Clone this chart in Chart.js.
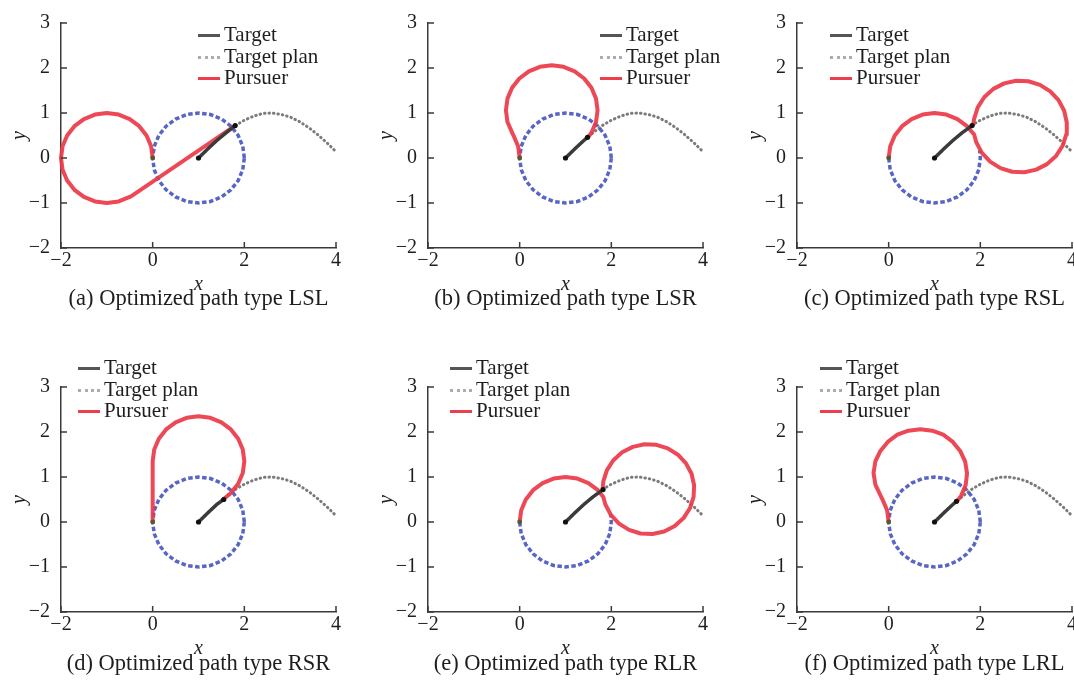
<!DOCTYPE html>
<html><head><meta charset="utf-8">
<script src="https://cdn.jsdelivr.net/npm/chart.js@4.4.0/dist/chart.umd.min.js"></script>
<style>
html,body{margin:0;padding:0;background:#fff;}
body{width:1074px;height:684px;overflow:hidden;position:relative;font-family:"Liberation Serif","Times New Roman",serif;color:#1e1e1e;}
canvas{position:absolute;}
.cap{position:absolute;font-size:22.5px;line-height:26px;white-space:nowrap;transform:translateX(-50%);}
.leg{position:absolute;font-size:21px;line-height:22px;white-space:nowrap;}
.sw{position:absolute;width:22px;}
</style>
</head><body>
<script>
// ---------- data ----------
const xTickValues = [-2, 0, 2, 4];
const yTickValues = [-2, -1, 0, 1, 2, 3];
const legendLabels = ['Target', 'Target plan', 'Pursuer'];
const captions = [
  '(a) Optimized path type LSL', '(b) Optimized path type LSR', '(c) Optimized path type RSL',
  '(d) Optimized path type RSR', '(e) Optimized path type RLR', '(f) Optimized path type LRL'
];

// planned target trajectory (grey dotted)
const targetPlan = [[1,0],[1.2,0.2],[1.4,0.39],[1.6,0.56],[1.8,0.72],[2.0,0.84],[2.2,0.93],[2.4,0.99],[2.6,1.0],[2.8,0.97],[3.0,0.91],[3.2,0.81],[3.4,0.68],[3.6,0.52],[3.8,0.34],[4.0,0.14],[4.1,0.04],[4.18,-0.04]];

// blue dashed circle (full and partial)
const blueFull = [[2,0],[1.966,0.259],[1.866,0.5],[1.707,0.707],[1.5,0.866],[1.259,0.966],[1,1],[0.741,0.966],[0.5,0.866],[0.293,0.707],[0.134,0.5],[0.034,0.259],[0,0],[0.034,-0.259],[0.134,-0.5],[0.293,-0.707],[0.5,-0.866],[0.741,-0.966],[1,-1],[1.259,-0.966],[1.5,-0.866],[1.707,-0.707],[1.866,-0.5],[1.966,-0.259],[2,0]];
const bluePart = [[0,0],[0.034,-0.259],[0.134,-0.5],[0.293,-0.707],[0.5,-0.866],[0.741,-0.966],[1,-1],[1.259,-0.966],[1.5,-0.866],[1.707,-0.707],[1.866,-0.5],[1.966,-0.259],[2,0],[1.985,0.17]];

// target actual path (dark solid)
const targetA = [[1,0],[1.2,0.2],[1.4,0.39],[1.6,0.56],[1.8,0.72]];
const targetB = [[1,0],[1.2,0.2],[1.4,0.39],[1.48,0.46]];
const targetC = [[1,0],[1.2,0.2],[1.4,0.39],[1.6,0.56],[1.82,0.72]];
const targetD = [[1,0],[1.2,0.2],[1.4,0.39],[1.55,0.5]];
const targetE = [[1,0],[1.2,0.2],[1.4,0.39],[1.6,0.56],[1.82,0.72]];
const targetF = [[1,0],[1.2,0.2],[1.4,0.39],[1.48,0.46]];

// pursuer paths (red)
const pursuerA = [[0,0],[-0.034,0.259],[-0.134,0.5],[-0.293,0.707],[-0.5,0.866],[-0.741,0.966],[-1,1],[-1.259,0.966],[-1.5,0.866],[-1.707,0.707],[-1.866,0.5],[-1.966,0.259],[-2,0],[-1.966,-0.259],[-1.866,-0.5],[-1.707,-0.707],[-1.5,-0.866],[-1.259,-0.966],[-1,-1],[-0.741,-0.966],[-0.5,-0.866],[-0.44,-0.83],[1.8,0.72]];
const pursuerB = [[0,0],[-0.034,0.259],[-0.134,0.5],[-0.15,0.53],[-0.266,0.801],[-0.3,1.06],[-0.266,1.319],[-0.166,1.56],[-0.007,1.767],[0.2,1.926],[0.441,2.026],[0.7,2.06],[0.959,2.026],[1.2,1.926],[1.407,1.767],[1.566,1.56],[1.666,1.319],[1.7,1.06],[1.666,0.801],[1.566,0.56],[1.49,0.46]];
const pursuerC = [[0,0],[0.034,0.259],[0.134,0.5],[0.293,0.707],[0.5,0.866],[0.741,0.966],[1,1],[1.259,0.966],[1.5,0.866],[1.707,0.707],[1.865,0.523],[1.911,0.351],[2.034,0.115],[2.214,-0.081],[2.439,-0.224],[2.693,-0.305],[2.959,-0.316],[3.219,-0.259],[3.455,-0.136],[3.651,0.044],[3.794,0.269],[3.875,0.523],[3.886,0.789],[3.829,1.049],[3.706,1.285],[3.526,1.481],[3.301,1.624],[3.047,1.705],[2.781,1.716],[2.521,1.659],[2.285,1.536],[2.089,1.356],[1.946,1.131],[1.865,0.877],[1.84,0.72]];
const pursuerD = [[0,0],[0,0.5],[0,1.0],[0,1.35],[0.034,1.609],[0.134,1.85],[0.293,2.057],[0.5,2.216],[0.741,2.316],[1,2.35],[1.259,2.316],[1.5,2.216],[1.707,2.057],[1.866,1.85],[1.966,1.609],[2,1.35],[1.966,1.091],[1.866,0.85],[1.707,0.643],[1.55,0.51]];
const pursuerE = [[0,0],[0.034,0.259],[0.134,0.5],[0.293,0.707],[0.5,0.866],[0.741,0.966],[1,1],[1.259,0.966],[1.5,0.866],[1.707,0.707],[1.825,0.556],[1.87,0.388],[1.991,0.156],[2.167,-0.036],[2.387,-0.176],[2.636,-0.255],[2.897,-0.266],[3.152,-0.21],[3.384,-0.089],[3.576,0.087],[3.716,0.307],[3.795,0.556],[3.806,0.817],[3.75,1.072],[3.629,1.304],[3.453,1.496],[3.233,1.636],[2.984,1.715],[2.723,1.726],[2.468,1.67],[2.236,1.549],[2.044,1.373],[1.904,1.153],[1.825,0.904],[1.81,0.73]];
const pursuerF = [[0,0],[-0.034,0.259],[-0.134,0.5],[-0.16,0.55],[-0.29,0.83],[-0.33,1.09],[-0.29,1.35],[-0.18,1.58],[-0.02,1.78],[0.19,1.94],[0.43,2.03],[0.69,2.06],[0.95,2.03],[1.19,1.94],[1.4,1.78],[1.56,1.58],[1.67,1.34],[1.71,1.08],[1.68,0.82],[1.58,0.58],[1.49,0.46]];

const panelData = [
  {pursuer: pursuerA, target: targetA, blue: blueFull},
  {pursuer: pursuerB, target: targetB, blue: blueFull},
  {pursuer: pursuerC, target: targetC, blue: bluePart},
  {pursuer: pursuerD, target: targetD, blue: blueFull},
  {pursuer: pursuerE, target: targetE, blue: bluePart},
  {pursuer: pursuerF, target: targetF, blue: blueFull}
];

// ---------- layout (pixels) ----------
const panelLayout = [
  {L: 61,  T: 18,  leg: 137},
  {L: 428, T: 18,  leg: 172},
  {L: 797, T: 18,  leg: 33},
  {L: 61,  T: 382, leg: 17},
  {L: 428, T: 382, leg: 22},
  {L: 797, T: 382, leg: 23}
];
const AREA_W = 275, AREA_H = 230, Y_W = 61, X_H = 50, PAD_R = 22;

Chart.defaults.font.family = '"Liberation Serif", "Times New Roman", serif';
Chart.defaults.color = '#1e1e1e';

const inwardTicks = {
  id: 'inwardTicks',
  afterDraw(chart) {
    const {ctx, chartArea: a, scales: {x, y}} = chart;
    ctx.save();
    ctx.strokeStyle = '#3a3a3a';
    ctx.lineWidth = 1.5;
    ctx.beginPath();
    x.ticks.forEach(t => { const px = x.getPixelForValue(t.value); ctx.moveTo(px, a.bottom); ctx.lineTo(px, a.bottom - 6); });
    y.ticks.forEach(t => { const py = y.getPixelForValue(t.value); ctx.moveTo(a.left, py); ctx.lineTo(a.left + 6, py); });
    ctx.stroke();
    ctx.restore();
  }
};

const fmt = v => (v < 0 ? '\u2212' + Math.abs(v) : String(v));
const pts = arr => arr.map(p => ({x: p[0], y: p[1]}));

panelData.forEach((pd, i) => {
  const lay = panelLayout[i];
  const cv = document.createElement('canvas');
  const W = Y_W + AREA_W + PAD_R, H = 18 + AREA_H + X_H;
  cv.width = W; cv.height = H;
  cv.style.left = (lay.L - Y_W) + 'px';
  cv.style.top = (lay.T - 18) + 'px';
  cv.style.width = W + 'px'; cv.style.height = H + 'px';
  document.body.appendChild(cv);

  const tgt = pd.target;
  new Chart(cv, {
    type: 'scatter',
    data: {
      datasets: [
        {label: 'markers', data: pts([[1,0], tgt[tgt.length-1]]), showLine: false, pointRadius: 2.6, pointBackgroundColor: '#111', pointBorderWidth: 0, order: 0, clip: false},
        {label: 'start', data: pts([[0,0]]), showLine: false, pointRadius: 2.4, pointBackgroundColor: '#5e5632', pointBorderWidth: 0, order: 0, clip: false},
        {label: legendLabels[0], data: pts(tgt), showLine: true, borderColor: '#3b3b3b', borderWidth: 3.5, pointRadius: 0, order: 1, clip: false},
        {label: legendLabels[2], data: pts(pd.pursuer), showLine: true, borderColor: 'rgba(236,56,70,0.92)', borderWidth: 4, pointRadius: 0, borderJoinStyle: 'round', order: 2, clip: false},
        {label: 'circle', data: pts(pd.blue), showLine: true, borderColor: 'rgba(58,74,188,0.85)', borderWidth: 3.5, borderDash: [4.5, 2.5], pointRadius: 0, order: 3, clip: false},
        {label: legendLabels[1], data: pts(targetPlan), showLine: true, borderColor: '#7b7b7b', borderWidth: 3, borderDash: [0.5, 4], borderCapStyle: 'round', pointRadius: 0, order: 4, clip: false}
      ]
    },
    options: {
      responsive: false,
      animation: false,
      events: [],
      layout: {padding: {left: 0, top: 18, right: PAD_R, bottom: 0}},
      plugins: {legend: {display: false}, tooltip: {enabled: false}},
      scales: {
        x: {
          type: 'linear', min: -2, max: 4,
          afterBuildTicks: s => { s.ticks = xTickValues.map(v => ({value: v})); },
          afterFit: s => { s.height = X_H; },
          grid: {display: true, drawOnChartArea: false, drawTicks: false},
          border: {display: true, color: '#3a3a3a', width: 1.5},
          ticks: {font: {size: 20}, color: '#1e1e1e', padding: 1, maxRotation: 0, callback: fmt},
          title: {display: true, text: 'x', font: {size: 20, style: 'italic'}, color: '#1e1e1e', padding: {top: 0, bottom: 1}}
        },
        y: {
          type: 'linear', min: -2, max: 3,
          afterBuildTicks: s => { s.ticks = yTickValues.map(v => ({value: v})); },
          afterFit: s => { s.width = Y_W; },
          grid: {display: true, drawOnChartArea: false, drawTicks: false},
          border: {display: true, color: '#3a3a3a', width: 1.5},
          ticks: {font: {size: 20}, color: '#1e1e1e', padding: 11, callback: fmt},
          title: {display: true, text: 'y', font: {size: 20, style: 'italic'}, color: '#1e1e1e', padding: {top: 8, bottom: 0}}
        }
      }
    },
    plugins: [inwardTicks]
  });

  // legend (HTML text)
  const rowTops = lay.T === 18 ? [17, 39, 60] : [-14, 8, 29];
  const swStyles = [
    'height:3.5px;background:#555;',
    'height:0;border-top:3px dotted #a9acb6;',
    'height:3.5px;background:#ee3d4c;'
  ];
  legendLabels.forEach((lbl, k) => {
    const cy = lay.T + rowTops[k];
    const sw = document.createElement('div');
    sw.className = 'sw';
    sw.style.cssText += swStyles[k] + 'left:' + (lay.L + lay.leg) + 'px;top:' + (cy - 1.5) + 'px;';
    document.body.appendChild(sw);
    const t = document.createElement('div');
    t.className = 'leg';
    t.textContent = lbl;
    t.style.left = (lay.L + lay.leg + 26) + 'px';
    t.style.top = (cy - 12) + 'px';
    document.body.appendChild(t);
  });

  // caption
  const c = document.createElement('div');
  c.className = 'cap';
  c.textContent = captions[i];
  c.style.left = (lay.L + AREA_W / 2) + 'px';
  c.style.top = (lay.T === 18 ? 298 : 663) - 13 + 'px';
  document.body.appendChild(c);
});
</script>
</body></html>
